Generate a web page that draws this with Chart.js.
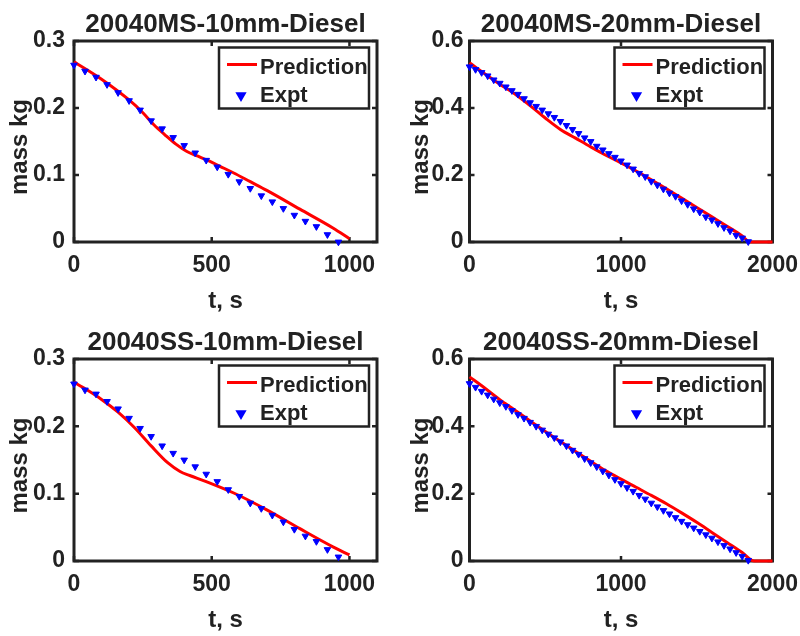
<!DOCTYPE html>
<html>
<head>
<meta charset="utf-8">
<title>Diesel pool burning - mass loss</title>
<script src="https://cdn.jsdelivr.net/npm/chart.js@4.4.1/dist/chart.umd.min.js"></script>
<style>
  body { margin: 0; background: #fff; }
  #grid { position: relative; width: 800px; height: 636px; }
  #grid canvas { position: absolute; }
</style>
</head>
<body>
<div id="grid">
  <canvas id="ms10" width="400" height="318" style="left:0;top:0"></canvas>
  <canvas id="ms20" width="400" height="318" style="left:400px;top:0"></canvas>
  <canvas id="ss10" width="400" height="318" style="left:0;top:318px"></canvas>
  <canvas id="ss20" width="400" height="318" style="left:400px;top:318px"></canvas>
</div>
<script>
// Measured mass (kg) every 40 s
const exptTime10 = [0, 40, 80, 120, 160, 200, 240, 280, 320, 360, 400, 440, 480, 520, 560, 600, 640, 680, 720, 760, 800, 840, 880, 920, 960]
const ms10Expt = [0.264, 0.255, 0.246, 0.235, 0.223, 0.211, 0.197, 0.181, 0.169, 0.156, 0.144, 0.133, 0.122, 0.112, 0.101, 0.090, 0.080, 0.069, 0.060, 0.050, 0.040, 0.031, 0.023, 0.011, 0.0]
const ss10Expt = [0.263, 0.254, 0.248, 0.237, 0.226, 0.212, 0.197, 0.185, 0.171, 0.160, 0.150, 0.140, 0.129, 0.118, 0.106, 0.096, 0.086, 0.078, 0.068, 0.058, 0.047, 0.037, 0.029, 0.017, 0.006]

const exptTime20 = [0, 40, 80, 120, 160, 200, 240, 280, 320, 360, 400, 440, 480, 520, 560, 600, 640, 680, 720, 760, 800, 840, 880, 920, 960, 1000, 1040, 1080, 1120, 1160, 1200, 1240, 1280, 1320, 1360, 1400, 1440, 1480, 1520, 1560, 1600, 1640, 1680, 1720, 1760, 1800, 1840]
const ms20Expt = [0.523, 0.515, 0.506, 0.496, 0.484, 0.474, 0.463, 0.452, 0.441, 0.428, 0.416, 0.405, 0.394, 0.383, 0.372, 0.360, 0.348, 0.336, 0.324, 0.311, 0.300, 0.286, 0.275, 0.264, 0.253, 0.242, 0.230, 0.218, 0.205, 0.195, 0.181, 0.170, 0.158, 0.146, 0.136, 0.123, 0.112, 0.099, 0.089, 0.075, 0.066, 0.055, 0.043, 0.033, 0.020, 0.012, 0.001]
const ss20Expt = [0.527, 0.516, 0.504, 0.493, 0.481, 0.470, 0.459, 0.447, 0.435, 0.424, 0.412, 0.400, 0.389, 0.377, 0.366, 0.354, 0.342, 0.329, 0.317, 0.304, 0.292, 0.280, 0.267, 0.255, 0.242, 0.230, 0.218, 0.207, 0.195, 0.184, 0.172, 0.161, 0.150, 0.140, 0.129, 0.118, 0.108, 0.098, 0.088, 0.078, 0.068, 0.057, 0.046, 0.036, 0.025, 0.014, 0.002]

// Model prediction
const ms10PredTime = [0, 100, 200, 250, 290, 330, 370, 410, 450, 490, 530, 580, 640, 700, 820, 940, 1000]
const ms10Pred = [0.269, 0.243, 0.212, 0.193, 0.175, 0.160, 0.146, 0.135, 0.128, 0.121, 0.113, 0.103, 0.090, 0.077, 0.049, 0.021, 0.005]
const ss10PredTime = [0, 100, 160, 220, 280, 340, 385, 420, 480, 580, 700, 820, 940, 1000]
const ss10Pred = [0.266, 0.240, 0.221, 0.198, 0.171, 0.146, 0.133, 0.127, 0.118, 0.101, 0.076, 0.048, 0.021, 0.009]
const predTime20 = [0, 100, 200, 300, 400, 500, 600, 700, 800, 900, 1000, 1100, 1200, 1300, 1400, 1500, 1600, 1700, 1800, 1850, 2000]
const ms20Pred = [0.535, 0.502, 0.471, 0.442, 0.407, 0.370, 0.336, 0.310, 0.284, 0.259, 0.236, 0.212, 0.186, 0.159, 0.131, 0.103, 0.075, 0.047, 0.018, 0, 0]
const ss20PredTime = [0, 100, 200, 300, 400, 500, 600, 700, 800, 900, 1000, 1100, 1200, 1300, 1400, 1500, 1600, 1700, 1800, 1880, 2000]
const ss20Pred = [0.547, 0.514, 0.479, 0.448, 0.416, 0.385, 0.355, 0.325, 0.296, 0.268, 0.243, 0.219, 0.195, 0.170, 0.143, 0.115, 0.085, 0.055, 0.025, 0, 0]

// Axis ticks
const xTicks10 = [0, 500, 1000]
const xTicks20 = [0, 1000, 2000]
const yTicks10 = [0, 0.1, 0.2, 0.3]
const yTicks20 = [0, 0.2, 0.4, 0.6]

const seriesNames = ["Prediction", "Expt"]
const xLabel = "t, s"
const yLabel = "mass kg"

const ink = "#222222"
const predColor = "#ff0000"
const exptColor = "#0000ff"
const family = "'Liberation Sans', Arial, Helvetica, sans-serif"

const pts = (xs, ys) => xs.map((x, i) => ({ x: x, y: ys[i] }))

// Boxed axes with inward ticks, title, labels and legend
const boxedAxes = {
  id: "boxedAxes",
  beforeDatasetsDraw(chart) {
    const { ctx, chartArea: a, scales } = chart
    ctx.save()
    ctx.strokeStyle = ink
    ctx.lineWidth = 2.5
    ctx.beginPath()
    scales.x.ticks.forEach((t) => {
      const px = scales.x.getPixelForValue(t.value)
      ctx.moveTo(px, a.bottom)
      ctx.lineTo(px, a.bottom - 5)
      ctx.moveTo(px, a.top)
      ctx.lineTo(px, a.top + 5)
    })
    scales.y.ticks.forEach((t) => {
      const py = scales.y.getPixelForValue(t.value)
      ctx.moveTo(a.left, py)
      ctx.lineTo(a.left + 5, py)
      ctx.moveTo(a.right, py)
      ctx.lineTo(a.right - 5, py)
    })
    ctx.stroke()
    ctx.lineWidth = 3
    ctx.strokeRect(a.left, a.top, a.right - a.left, a.bottom - a.top)
    ctx.restore()
  },
  afterDraw(chart, args, opts) {
    const { ctx, chartArea: a } = chart
    const cx = (a.left + a.right) / 2
    ctx.save()
    ctx.fillStyle = ink
    ctx.textAlign = "center"
    ctx.textBaseline = "alphabetic"

    ctx.font = "bold 26px " + family
    ctx.fillText(opts.title, cx, a.top - 9)

    ctx.font = "bold 24px " + family
    ctx.fillText(xLabel, cx, a.bottom + 65.5)

    ctx.save()
    ctx.translate(a.left - opts.ylabelGap, (a.top + a.bottom) / 2 + 5.5)
    ctx.rotate(-Math.PI / 2)
    ctx.fillText(yLabel, 0, 0)
    ctx.restore()

    // legend box, top right inside the axes
    const bw = 150
    const bh = 61
    const bx = a.right - 8 - bw
    const by = a.top + 6.5
    ctx.fillStyle = "#fff"
    ctx.fillRect(bx, by, bw, bh)
    ctx.strokeStyle = ink
    ctx.lineWidth = 2.5
    ctx.strokeRect(bx, by, bw, bh)

    ctx.strokeStyle = predColor
    ctx.lineWidth = 3
    ctx.beginPath()
    ctx.moveTo(bx + 8, by + 17)
    ctx.lineTo(bx + 38, by + 17)
    ctx.stroke()

    ctx.fillStyle = exptColor
    ctx.strokeStyle = exptColor
    Chart.helpers.drawPoint(ctx, { pointStyle: "triangle", rotation: 180, radius: 3.5, borderWidth: 1 }, bx + 22, by + 48)

    ctx.fillStyle = ink
    ctx.textAlign = "left"
    ctx.font = "bold 22px " + family
    ctx.fillText(seriesNames[0], bx + 41, by + 26)
    ctx.fillText(seriesNames[1], bx + 41, by + 54.5)
    ctx.restore()
  },
}

function makePanel(p) {
  const tickFont = { family: family, size: 23, weight: "bold" }
  return new Chart(document.getElementById(p.id), {
    type: "scatter",
    data: {
      datasets: [
        {
          label: seriesNames[0],
          data: pts(p.predTime, p.pred),
          showLine: true,
          borderColor: predColor,
          borderWidth: 3,
          pointRadius: 0,
          cubicInterpolationMode: "monotone",
          clip: 4,
          order: 1,
        },
        {
          label: seriesNames[1],
          data: pts(p.exptTime, p.expt),
          showLine: false,
          pointStyle: "triangle",
          rotation: 180,
          pointRadius: 3.8,
          borderWidth: 1,
          backgroundColor: exptColor,
          borderColor: exptColor,
          clip: false,
          order: 0,
        },
      ],
    },
    options: {
      responsive: false,
      animation: false,
      layout: { padding: { top: 41, right: p.padRight, bottom: 0, left: 0 } },
      plugins: {
        legend: { display: false },
        tooltip: { enabled: false },
        boxedAxes: { title: p.title, ylabelGap: p.ylabelGap },
      },
      scales: {
        x: {
          type: "linear",
          min: 0,
          max: p.xMax,
          grid: { display: false, drawTicks: false },
          border: { display: false },
          ticks: {
            padding: 10,
            maxRotation: 0,
            autoSkip: false,
            color: ink,
            font: tickFont,
            callback: (v) => String(v),
          },
          afterBuildTicks: (s) => {
            s.ticks = p.xTicks.map((v) => ({ value: v }))
          },
          afterFit: (s) => {
            s.height = p.xHeight
            s.paddingLeft = 0
            s.paddingRight = 0
          },
        },
        y: {
          min: 0,
          max: p.yMax,
          grid: { display: false, drawTicks: false },
          border: { display: false },
          ticks: { padding: p.yPad, color: ink, font: tickFont },
          afterBuildTicks: (s) => {
            s.ticks = p.yTicks.map((v) => ({ value: v }))
          },
          afterFit: (s) => {
            s.width = p.yWidth
            s.paddingTop = 0
            s.paddingBottom = 0
          },
        },
      },
    },
    plugins: [boxedAxes],
  })
}

makePanel({
  id: "ms10", title: "20040MS-10mm-Diesel",
  exptTime: exptTime10, expt: ms10Expt, predTime: ms10PredTime, pred: ms10Pred,
  xMax: 1100, xTicks: xTicks10, yMax: 0.3, yTicks: yTicks10,
  yWidth: 74, padRight: 23, xHeight: 76, yPad: 9, ylabelGap: 47,
})
makePanel({
  id: "ms20", title: "20040MS-20mm-Diesel",
  exptTime: exptTime20, expt: ms20Expt, predTime: predTime20, pred: ms20Pred,
  xMax: 2000, xTicks: xTicks20, yMax: 0.6, yTicks: yTicks20,
  yWidth: 69.5, padRight: 27.5, xHeight: 76, yPad: 6, ylabelGap: 42,
})
makePanel({
  id: "ss10", title: "20040SS-10mm-Diesel",
  exptTime: exptTime10, expt: ss10Expt, predTime: ss10PredTime, pred: ss10Pred,
  xMax: 1100, xTicks: xTicks10, yMax: 0.3, yTicks: yTicks10,
  yWidth: 74, padRight: 23, xHeight: 75, yPad: 9, ylabelGap: 47,
})
makePanel({
  id: "ss20", title: "20040SS-20mm-Diesel",
  exptTime: exptTime20, expt: ss20Expt, predTime: ss20PredTime, pred: ss20Pred,
  xMax: 2000, xTicks: xTicks20, yMax: 0.6, yTicks: yTicks20,
  yWidth: 69.5, padRight: 27.5, xHeight: 75, yPad: 6, ylabelGap: 42,
})
</script>
</body>
</html>
